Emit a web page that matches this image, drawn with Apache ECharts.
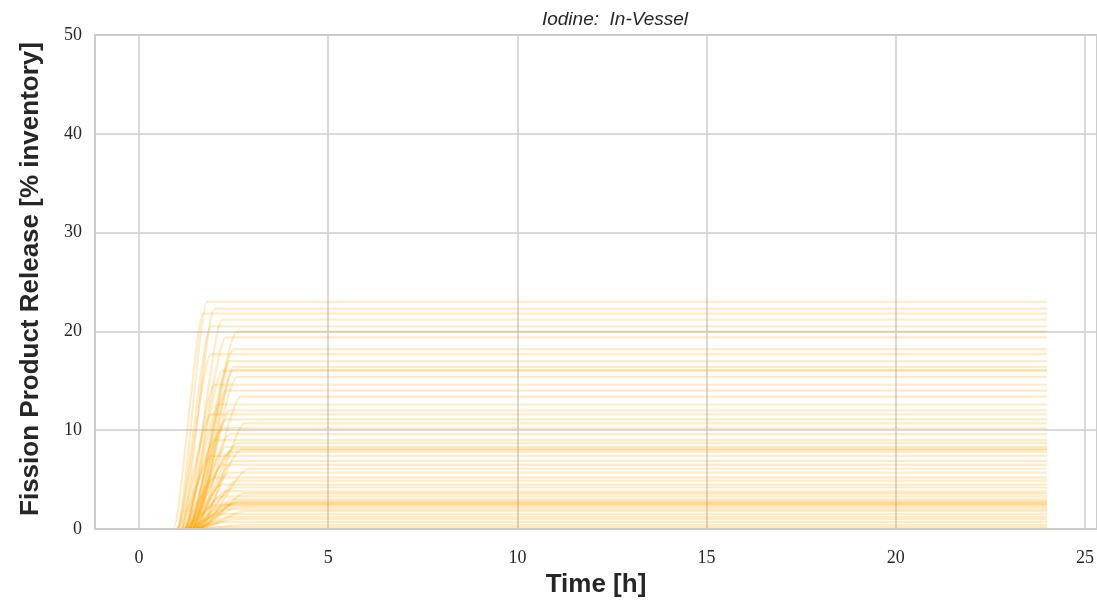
<!DOCTYPE html>
<html>
<head>
<meta charset="utf-8">
<script src="https://cdn.jsdelivr.net/npm/echarts@6/dist/echarts.min.js"></script>
<style>html,body{margin:0;padding:0;background:#fff;}#chart{width:1097px;height:608px;}</style>
</head>
<body>
<div id="chart"></div>
<script>
// Tick labels
const xTicks = [0, 5, 10, 15, 20, 25];
const yTicks = [0, 10, 20, 30, 40, 50];
// End of simulated time [h]
const tEnd = 24;
// Ensemble runs: plateau release [% inventory], onset time [h], time plateau reached [h]
const plateau = [23.0,22.3,21.8,21.2,20.5,20.0,19.4,18.2,17.7,17.0,16.4,16.0,15.4,14.6,14.0,13.4,12.6,12.0,11.6,11.1,10.7,10.2,
                 9.6,9.0,8.7,8.3,8.0,7.8,7.4,6.9,6.5,6.1,5.7,5.2,4.9,4.5,4.2,3.8,3.6,3.3,3.0,2.8,2.6,2.5,2.4,2.2,2.0,1.8,1.5,1.2,1.0,0.7,0.4,0.2,
                 8.1,2.7,16.1];
const onset = [1.0,1.1,0.9,1.2,1.0,1.3,1.2,1.4,1.0,1.3,1.5,1.2,1.4,1.1,1.3,1.5,1.2,1.4,1.0,1.3,1.6,1.2,
               1.3,1.1,1.4,1.2,1.5,1.3,1.0,1.4,1.2,1.6,1.3,1.1,1.5,1.2,1.4,1.3,1.6,1.2,1.4,1.5,1.3,1.4,1.1,1.5,1.3,1.6,1.2,1.4,1.5,1.3,1.6,1.4,
               1.2,1.5,1.4];
const knee = [1.8,2.0,1.7,2.2,1.9,2.6,2.3,2.5,1.9,2.4,2.5,2.2,2.6,2.0,2.3,2.7,2.1,2.4,1.9,2.3,2.8,2.2,
              2.4,2.0,2.6,2.3,2.7,2.4,1.9,2.5,2.2,2.9,2.4,2.0,2.6,2.2,2.5,2.3,2.8,2.2,2.5,2.6,2.3,2.4,2.0,2.6,2.3,2.8,2.1,2.4,2.5,2.2,2.7,2.3,
              2.5,2.6,2.5];

const chart = echarts.init(document.getElementById('chart'), null, {renderer: 'canvas'});
const series = plateau.map((p, i) => ({
  type: 'line',
  xAxisIndex: 1,
  yAxisIndex: 1,
  showSymbol: false,
  silent: true,
  smooth: 0.25,
  smoothMonotone: 'x',
  lineStyle: {color: 'rgba(255,165,0,0.22)', width: 2.2},
  data: [[0, 0], [onset[i], 0], [knee[i], p], [tEnd, p]],
  z: 3
}));

const serif = '"Liberation Serif", "DejaVu Serif", serif';
chart.setOption({
  animation: false,
  backgroundColor: '#ffffff',
  grid: [
    {left: 95, right: -45, top: 35, bottom: 79, show: true, borderColor: '#cccccc', borderWidth: 2, backgroundColor: 'transparent', z: 10},
    {left: 139, right: 6, top: 35, bottom: 79}
  ],
  xAxis: [
    {gridIndex: 0, type: 'value', min: 0, max: 1, show: false},
    {gridIndex: 1, type: 'value', min: xTicks[0], max: xTicks[xTicks.length - 1], interval: 5,
     axisLine: {show: false}, axisTick: {show: false},
     axisLabel: {fontFamily: serif, fontSize: 18, color: '#262626', margin: 20, showMaxLabel: true, showMinLabel: true},
     splitLine: {show: true, lineStyle: {color: '#cccccc', width: 1.5}}}
  ],
  yAxis: [
    {gridIndex: 0, type: 'value', min: yTicks[0], max: yTicks[yTicks.length - 1], interval: 10,
     axisLine: {show: false}, axisTick: {show: false},
     axisLabel: {fontFamily: serif, fontSize: 18, color: '#262626', margin: 13},
     splitLine: {show: true, lineStyle: {color: '#cccccc', width: 1.5}}},
    {gridIndex: 1, type: 'value', min: 0, max: 50, show: false}
  ],
  graphic: [
    {type: 'text', style: {text: 'Iodine:  In-Vessel', x: 615, y: 20, align: 'center', verticalAlign: 'middle',
      font: 'italic 19px "Liberation Sans", Arial, sans-serif', fill: '#262626'}},
    {type: 'text', style: {text: 'Time [h]', x: 596, y: 585, align: 'center', verticalAlign: 'middle',
      font: 'bold 26px "Liberation Sans", Arial, sans-serif', fill: '#262626'}},
    {type: 'text', x: 31, y: 279, rotation: Math.PI / 2, style: {text: 'Fission Product Release [% inventory]', x: 0, y: 0,
      align: 'center', verticalAlign: 'middle', font: 'bold 26px "Liberation Sans", Arial, sans-serif', fill: '#262626'}}
  ],
  series: series
});
</script>
</body>
</html>
